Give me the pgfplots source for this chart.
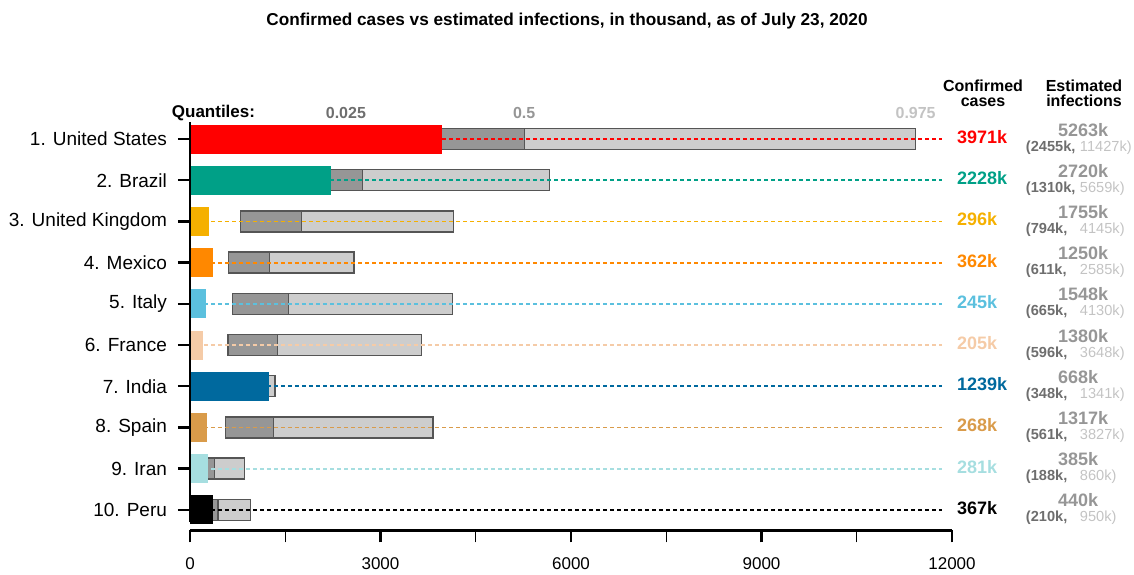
\documentclass[border=0pt]{standalone}
\usepackage{pgfplots}
\pgfplotsset{compat=1.18}
\usepackage{pgfplotstable}
\usepackage{fontspec}
\setmainfont{Liberation Sans}

% bar colours, by rank
\definecolor{c1}{RGB}{255,0,0}
\definecolor{c2}{RGB}{0,160,135}
\definecolor{c3}{RGB}{245,176,0}
\definecolor{c4}{RGB}{255,136,0}
\definecolor{c5}{RGB}{91,192,222}
\definecolor{c6}{RGB}{245,203,167}
\definecolor{c7}{RGB}{0,105,158}
\definecolor{c8}{RGB}{217,155,74}
\definecolor{c9}{RGB}{166,222,224}
\definecolor{c10}{RGB}{0,0,0}
\definecolor{dgray}{RGB}{150,150,150}
\definecolor{lgray}{RGB}{205,205,205}
\definecolor{edge}{RGB}{85,85,85}
\definecolor{qlo}{RGB}{110,110,110}
\definecolor{qmed}{RGB}{150,150,150}
\definecolor{qhi}{RGB}{195,195,195}

% confirmed cases and estimated infections (thousands)
\pgfplotstableread{
rank y conf q025 q50 q975
1 10 3971 2455 5263 11427
2 9 2228 1310 2720 5659
3 8 296 794 1755 4145
4 7 362 611 1250 2585
5 6 245 665 1548 4130
6 5 205 596 1380 3648
7 4 1239 348 668 1341
8 3 268 561 1317 3827
9 2 281 188 385 860
10 1 367 210 440 950
}\est

\tikzset{
  txt/.style={inner sep=0pt, outer sep=0pt},
  confval/.style={txt, anchor=base west, font=\bfseries\fontsize{9}{10}\selectfont},
  medval/.style={txt, anchor=base west, text=qmed, font=\bfseries\fontsize{9}{10}\selectfont},
  ci/.style={txt, anchor=base west, font=\fontsize{7.3}{8}\selectfont},
  guide/.style={line width=0.9pt, dash pattern=on 2pt off 1.5pt},
}
% y, colour, confirmed, median, low, high
\newcommand\rowtext[6]{%
  \node[confval, text=#2, yshift=-2.2pt] at (axis cs:12079,#1) {#3k};
  \node[medval, yshift=1.5pt] at (axis cs:13669,#1) {#4k};
  \node[ci, yshift=-6pt] at (axis cs:13165,#1)
    {\makebox[27pt][l]{\bfseries\color{qlo}(#5k,}\color{qhi}#6k)};
}

\begin{document}
\begin{tikzpicture}
\begin{axis}[
  scale only axis, width=381pt, height=206pt,
  xmin=0, xmax=12000, ymin=0.5, ymax=10.5,
  xbar stacked, bar width=10.5pt,
  axis x line*=bottom, axis y line*=left,
  y axis line style={draw=none},
  x axis line style={line width=1.2pt, -},
  xtick={0,3000,6000,9000,12000},
  minor xtick={1500,4500,7500,10500},
  scaled x ticks=false,
  /pgf/number format/assume math mode=true,
  /pgf/number format/1000 sep={},
  ytick={1,...,10},
  yticklabels={10. Peru,9. Iran,8. Spain,7. India,6. France,5. Italy,4. Mexico,3. United Kingdom,2. Brazil,1. United States},
  tick align=outside,
  major tick length=6pt, minor tick length=6pt,
  major tick style={line width=1.2pt, black},
  minor tick style={line width=0.6pt, black},
  x tick label style={font=\fontsize{8.5}{10}\selectfont, yshift=-4pt},
  y tick label style={font=\fontsize{9.5}{11}\selectfont, xshift=-2pt},
  clip=false,
]
\addplot[draw=none, fill=none] table[x=q025, y=y]{\est};
\addplot[fill=dgray, draw=edge, line width=0.7pt] table[x expr=\thisrow{q50}-\thisrow{q025}, y=y]{\est};
\addplot[fill=lgray, draw=edge, line width=0.7pt] table[x expr=\thisrow{q975}-\thisrow{q50}, y=y]{\est};
\end{axis}

\begin{axis}[
  scale only axis, width=381pt, height=206pt,
  xmin=0, xmax=12000, ymin=0.5, ymax=10.5,
  hide axis, clip=false,
]
% dashed guide lines
\addplot[guide, c1] coordinates {(0,10) (11850,10)};
\addplot[guide, c2] coordinates {(0,9) (11850,9)};
\addplot[guide, c3] coordinates {(0,8) (11850,8)};
\addplot[guide, c4] coordinates {(0,7) (11850,7)};
\addplot[guide, c5] coordinates {(0,6) (11850,6)};
\addplot[guide, c6] coordinates {(0,5) (11850,5)};
\addplot[guide, c7] coordinates {(0,4) (11850,4)};
\addplot[guide, c8] coordinates {(0,3) (11850,3)};
\addplot[guide, c9] coordinates {(0,2) (11850,2)};
\addplot[guide, c10] coordinates {(0,1) (11850,1)};
% confirmed-case bars
\pgfplotsinvokeforeach{1,...,10}{
  \addplot[xbar, bar shift=0pt, bar width=14.5pt, fill=c#1, draw=none,
    restrict expr to domain={\thisrow{rank}}{#1:#1}]
    table[x=conf, y=y]{\est};
}
\draw[line width=1.2pt] (axis cs:0,0.7) -- (axis cs:0,10.42);

% headers
\node[txt, font=\bfseries\fontsize{8.6}{10}\selectfont] at (axis cs:5937,12.86)
  {Confirmed cases vs estimated infections, in thousand, as of July 23, 2020};
\node[txt, anchor=east, font=\bfseries\fontsize{8.5}{10}\selectfont] at (axis cs:1024,10.63) {Quantiles:};
\node[txt, text=qlo, font=\bfseries\fontsize{8}{10}\selectfont] at (axis cs:2455,10.63) {0.025};
\node[txt, text=qmed, font=\bfseries\fontsize{8}{10}\selectfont] at (axis cs:5263,10.63) {0.5};
\node[txt, text=qhi, font=\bfseries\fontsize{8}{10}\selectfont] at (axis cs:11427,10.63) {0.975};
\node[txt, align=center, font=\bfseries\fontsize{8}{7.5}\selectfont] at (axis cs:12488,11.12) {Confirmed\\cases};
\node[txt, align=center, font=\bfseries\fontsize{8}{7.5}\selectfont] at (axis cs:14079,11.12) {Estimated\\infections};

\rowtext{10}{c1}{3971}{5263}{2455}{11427}
\rowtext{9}{c2}{2228}{2720}{1310}{5659}
\rowtext{8}{c3}{296}{1755}{794}{4145}
\rowtext{7}{c4}{362}{1250}{611}{2585}
\rowtext{6}{c5}{245}{1548}{665}{4130}
\rowtext{5}{c6}{205}{1380}{596}{3648}
\rowtext{4}{c7}{1239}{668}{348}{1341}
\rowtext{3}{c8}{268}{1317}{561}{3827}
\rowtext{2}{c9}{281}{385}{188}{860}
\rowtext{1}{c10}{367}{440}{210}{950}

\coordinate (bbl) at (axis cs:-2992,-0.558);
\coordinate (btr) at (axis cs:14866,13.374);
\end{axis}
\pgfresetboundingbox
\path[use as bounding box] (bbl) rectangle (btr);
\end{tikzpicture}
\end{document}
